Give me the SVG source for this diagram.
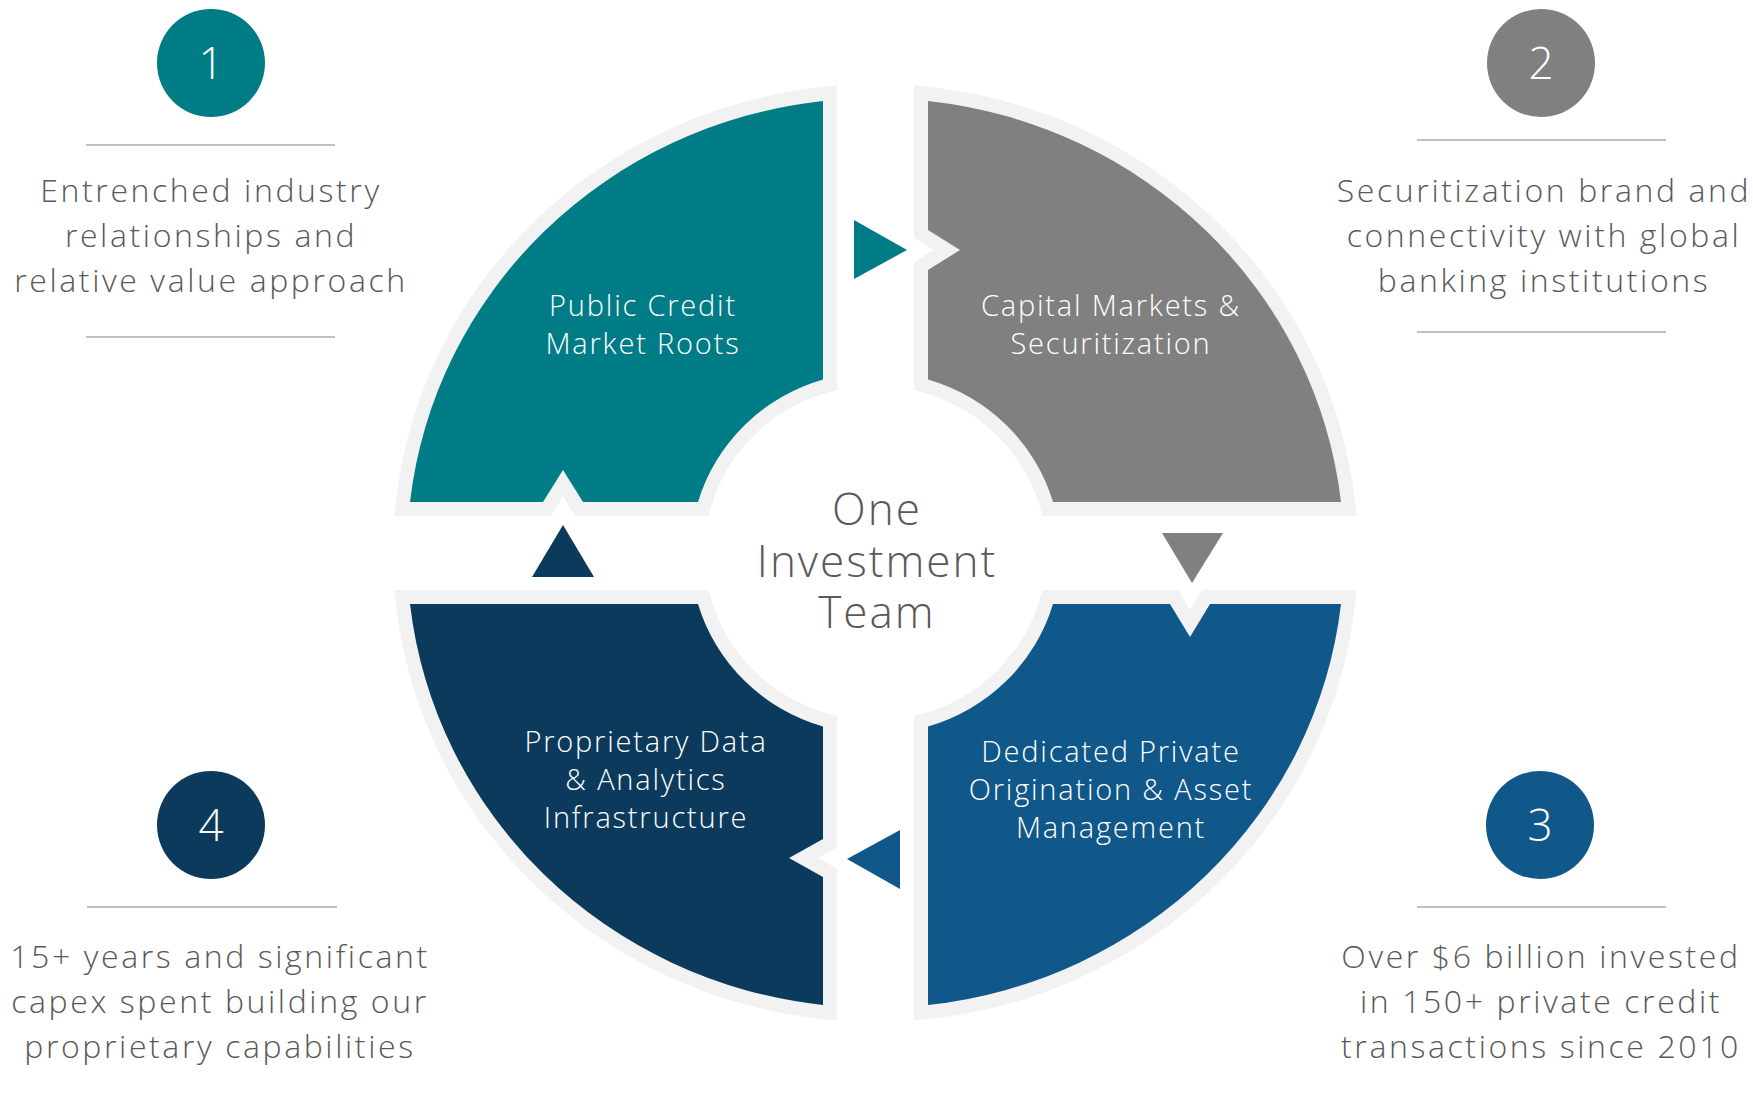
<svg xmlns="http://www.w3.org/2000/svg" width="1753" height="1098" viewBox="0 0 1753 1098">
<style>
.q{stroke:#F2F2F2;stroke-width:28;stroke-linejoin:miter;paint-order:stroke}
.lbl{font-family:"Open Sans","Noto Sans",sans-serif;font-weight:300;font-size:29px;letter-spacing:1.8px;fill:#FFFFFF;text-anchor:middle}
.side{font-family:"Open Sans","Noto Sans",sans-serif;font-weight:300;font-size:32px;letter-spacing:2.6px;fill:#595959;text-anchor:middle}
.num{font-family:"Open Sans","Noto Sans",sans-serif;font-weight:300;font-size:44px;fill:#FFFFFF;text-anchor:middle}
.ctr{font-family:"Open Sans","Noto Sans",sans-serif;font-weight:300;font-size:44px;letter-spacing:2px;fill:#595959;text-anchor:middle}
.rule{stroke:#C0C0C0;stroke-width:2}
</style>
<rect width="1753" height="1098" fill="#FFFFFF"/>

<g id="node-public-credit">
<path class="q" fill="#007C87" d="M823,101 L823,379.4 A185,181 0 0 0 698,502 L583,502 L563,470 L543,502 L410,502 A468,455 0 0 1 823,101 Z"/>
<text class="lbl" x="643" y="316">Public Credit</text>
<text class="lbl" x="643" y="354">Market Roots</text>
</g>

<g id="node-capital-markets">
<path class="q" fill="#808080" d="M928,101 A468,455 0 0 1 1341,502 L1053,502 A185,181 0 0 0 928,379.4 L928,270 L960,250 L928,230 Z"/>
<text class="lbl" x="1111" y="316">Capital Markets &amp;</text>
<text class="lbl" x="1111" y="354">Securitization</text>
</g>

<g id="node-private-origination">
<path class="q" fill="#10578A" d="M1053,604 L1170,604 L1190,637 L1210,604 L1341,604 A468,455 0 0 1 928,1005 L928,726.6 A185,181 0 0 0 1053,604 Z"/>
<text class="lbl" x="1111" y="762">Dedicated Private</text>
<text class="lbl" x="1111" y="800">Origination &amp; Asset</text>
<text class="lbl" x="1111" y="838">Management</text>
</g>

<g id="node-proprietary-data">
<path class="q" fill="#0B3A5C" d="M410,604 L698,604 A185,181 0 0 0 823,726.6 L823,839 L789,858 L823,877 L823,1005 A468,455 0 0 1 410,604 Z"/>
<text class="lbl" x="646" y="752">Proprietary Data</text>
<text class="lbl" x="646" y="790">&amp; Analytics</text>
<text class="lbl" x="646" y="828">Infrastructure</text>
</g>

<g id="connectors">
<polygon fill="#007C87" points="854,220 907,250 854,279"/>
<polygon fill="#808080" points="1162,533 1223,533 1192,583"/>
<polygon fill="#10578A" points="900,830 900,889 847,859"/>
<polygon fill="#0B3A5C" points="532,577 594,577 563,525"/>
</g>

<g id="node-center">
<text class="ctr" x="877" y="525">One</text>
<text class="ctr" x="877" y="577">Investment</text>
<text class="ctr" x="877" y="628">Team</text>
</g>

<g id="node-1">
<circle cx="211" cy="63" r="54" fill="#007C87"/>
<text class="num" x="211" y="79">1</text>
<line class="rule" x1="86" y1="145" x2="335" y2="145"/>
<text class="side" x="211" y="202">Entrenched industry</text>
<text class="side" x="211" y="247">relationships and</text>
<text class="side" x="211" y="292">relative value approach</text>
<line class="rule" x1="86" y1="337" x2="335" y2="337"/>
</g>

<g id="node-2">
<circle cx="1541" cy="63" r="54" fill="#808080"/>
<text class="num" x="1541" y="79">2</text>
<line class="rule" x1="1417" y1="140" x2="1666" y2="140"/>
<text class="side" x="1544" y="202">Securitization brand and</text>
<text class="side" x="1544" y="247">connectivity with global</text>
<text class="side" x="1544" y="292">banking institutions</text>
<line class="rule" x1="1417" y1="332" x2="1666" y2="332"/>
</g>

<g id="node-3">
<circle cx="1540" cy="825" r="54" fill="#10578A"/>
<text class="num" x="1540" y="841">3</text>
<line class="rule" x1="1417" y1="907" x2="1666" y2="907"/>
<text class="side" x="1541" y="968">Over $6 billion invested</text>
<text class="side" x="1541" y="1013">in 150+ private credit</text>
<text class="side" x="1541" y="1058">transactions since 2010</text>
</g>

<g id="node-4">
<circle cx="211" cy="825" r="54" fill="#0B3A5C"/>
<text class="num" x="211" y="841">4</text>
<line class="rule" x1="87" y1="907" x2="337" y2="907"/>
<text class="side" x="220" y="968">15+ years and significant</text>
<text class="side" x="220" y="1013">capex spent building our</text>
<text class="side" x="220" y="1058">proprietary capabilities</text>
</g>
</svg>
